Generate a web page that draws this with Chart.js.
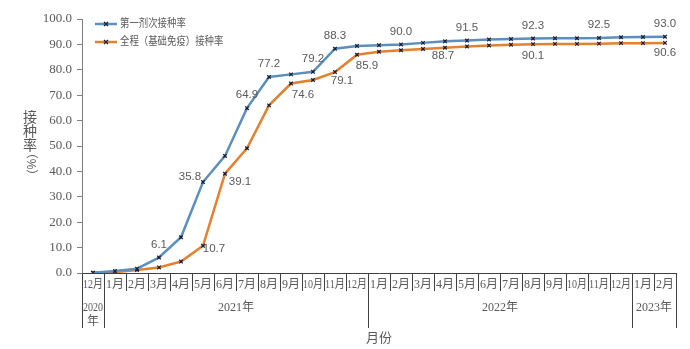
<!DOCTYPE html>
<html>
<head>
<meta charset="utf-8">
<script src="https://cdn.jsdelivr.net/npm/chart.js@4"></script>
<style>
  body { margin: 0; background: #fff; }
  #wrap { width: 690px; height: 349px; position: relative; }
</style>
</head>
<body>
<div id="wrap"><canvas id="myChart"></canvas></div>
<script>
// categories: 2020-12 .. 2023-02
const months = ["12月", "1月", "2月", "3月", "4月", "5月", "6月", "7月", "8月", "9月", "10月", "11月", "12月",
  "1月", "2月", "3月", "4月", "5月", "6月", "7月", "8月", "9月", "10月", "11月", "12月", "1月", "2月"];
const years = [
  { label: "2020\n年", from: 0, to: 0 },
  { label: "2021年", from: 1, to: 12 },
  { label: "2022年", from: 13, to: 24 },
  { label: "2023年", from: 25, to: 26 },
];
const firstDose = [0.1, 0.8, 1.7, 6.1, 14.1, 35.8, 46.1, 64.9, 77.2, 78.2, 79.2, 88.3, 89.4,
  89.7, 90.0, 90.6, 91.2, 91.5, 91.9, 92.1, 92.3, 92.4, 92.4, 92.5, 92.8, 92.9, 93.0];
const fullCourse = [0.1, 0.3, 1.2, 2.2, 4.5, 10.7, 39.1, 49.1, 66.0, 74.6, 76.0, 79.1, 85.9,
  87.1, 87.7, 88.2, 88.7, 89.2, 89.6, 89.9, 90.1, 90.2, 90.2, 90.3, 90.5, 90.5, 90.6];
const yTicks = [0, 10, 20, 30, 40, 50, 60, 70, 80, 90, 100];

// which points carry a value label, and where the label sits relative to the point
const firstDoseLabels = [3, 5, 7, 8, 10, 11, 14, 17, 20, 23, 26];
const fullCourseLabels = [5, 6, 9, 11, 12, 16, 20, 26];
const labelOffset = {
  0: { 5: [-13, -5] },
  1: { 5: [11, 3], 6: [15, 8], 9: [12, 11], 11: [7, 9], 12: [10, 11], 16: [-2, 8], 20: [0, 12], 26: [0, 10] },
};

const gray = "#595959";
const serif = '"Liberation Serif", "Noto Sans CJK SC"';
const sans = '"Liberation Sans", "Noto Sans CJK SC"';

function squeezeText(ctx, text, x, y, maxW) {
  const w = ctx.measureText(text).width;
  const s = w > maxW ? maxW / w : 1;
  ctx.save();
  ctx.translate(x, y);
  ctx.scale(s, 1);
  ctx.fillText(text, 0, 0);
  ctx.restore();
}

const extras = {
  id: "extras",
  afterDatasetsDraw(chart) {
    const ctx = chart.ctx;
    ctx.save();
    ctx.font = "11.5px " + sans;
    ctx.fillStyle = gray;
    ctx.textBaseline = "middle";
    [firstDoseLabels, fullCourseLabels].forEach((idx, di) => {
      const meta = chart.getDatasetMeta(di);
      const vals = chart.data.datasets[di].data;
      idx.forEach(i => {
        const p = meta.data[i];
        const off = (labelOffset[di] && labelOffset[di][i]) || [0, -13];
        ctx.textAlign = "center";
        squeezeText(ctx, vals[i].toFixed(1), p.x + off[0], p.y + off[1], 40);
      });
    });
    ctx.restore();
  },
  afterDraw(chart) {
    const ctx = chart.ctx;
    const x = chart.scales.x;
    const area = chart.chartArea;
    const bottom = area.bottom;
    const step = x.getPixelForValue(1) - x.getPixelForValue(0);
    ctx.save();
    ctx.strokeStyle = "#404040";
    ctx.lineWidth = 1;
    // month separators
    for (let i = 0; i <= months.length; i++) {
      const px = Math.round(x.getPixelForValue(i) - step / 2) + 0.5;
      ctx.beginPath();
      ctx.moveTo(px, bottom);
      ctx.lineTo(px, bottom + 18);
      ctx.stroke();
    }
    // year separators
    const yearEdges = [years[0].from];
    years.forEach(y => yearEdges.push(y.to + 1));
    yearEdges.forEach(e => {
      const px = Math.round(x.getPixelForValue(e) - step / 2) + 0.5;
      ctx.beginPath();
      ctx.moveTo(px, bottom);
      ctx.lineTo(px, bottom + 55);
      ctx.stroke();
    });
    ctx.fillStyle = gray;
    ctx.textAlign = "center";
    ctx.textBaseline = "middle";
    ctx.font = "12px " + serif;
    months.forEach((m, i) => {
      squeezeText(ctx, m, x.getPixelForValue(i), bottom + 12, step - 2);
    });
    years.forEach(y => {
      const cx = (x.getPixelForValue(y.from) + x.getPixelForValue(y.to)) / 2;
      const lines = y.label.split("\n");
      lines.forEach((t, k) => {
        squeezeText(ctx, t, cx, bottom + 35 + k * 14, (y.to - y.from + 1) * step - 2);
      });
    });
    // x title
    ctx.font = "13px " + sans;
    ctx.fillText("月份", (area.left + area.right) / 2, 338);
    // y title, stacked characters
    ctx.font = "14px " + sans;
    ["接", "种", "率"].forEach((c, k) => ctx.fillText(c, 30, 118 + k * 14));
    ctx.save();
    ctx.translate(30, 164);
    ctx.rotate(Math.PI / 2);
    ctx.font = "12px " + sans;
    ctx.fillText("（%）", 0, 0);
    ctx.restore();
    // legend
    const items = [
      { text: "第一剂次接种率", color: chart.data.datasets[0].borderColor, y: 24 },
      { text: "全程（基础免疫）接种率", color: chart.data.datasets[1].borderColor, y: 42 },
    ];
    items.forEach(it => {
      ctx.strokeStyle = it.color;
      ctx.lineWidth = 2.5;
      ctx.beginPath();
      ctx.moveTo(95, it.y);
      ctx.lineTo(117, it.y);
      ctx.stroke();
      ctx.strokeStyle = "#1b1f33";
      ctx.lineWidth = 1.3;
      ctx.beginPath();
      ctx.moveTo(104, it.y - 2); ctx.lineTo(108, it.y + 2);
      ctx.moveTo(108, it.y - 2); ctx.lineTo(104, it.y + 2);
      ctx.stroke();
      ctx.font = "11px " + sans;
      ctx.textAlign = "left";
      squeezeText(ctx, it.text, 120, it.y, it.text.length * 9.4);
    });
    ctx.restore();
  },
};

document.addEventListener("DOMContentLoaded", function () {
  const ctx = document.getElementById("myChart");
  new Chart(ctx, {
    type: "line",
    data: {
      labels: months,
      datasets: [
        {
          label: "第一剂次接种率",
          data: firstDose,
          borderColor: "#5a8fc0",
          borderWidth: 2.5,
          pointStyle: "crossRot",
          pointRadius: 2.5,
          pointBorderColor: "#1b1f33",
          pointBorderWidth: 1.3,
          tension: 0,
        },
        {
          label: "全程（基础免疫）接种率",
          data: fullCourse,
          borderColor: "#e3812f",
          borderWidth: 2.5,
          pointStyle: "crossRot",
          pointRadius: 2.5,
          pointBorderColor: "#1b1f33",
          pointBorderWidth: 1.3,
          tension: 0,
        },
      ],
    },
    options: {
      responsive: true,
      maintainAspectRatio: false,
      animation: false,
      layout: { padding: { top: 19, right: 14, left: 0, bottom: 0 } },
      plugins: {
        legend: { display: false },
        tooltip: { enabled: false },
      },
      scales: {
        x: {
          offset: true,
          grid: { display: false },
          border: { color: "#404040" },
          ticks: { display: false },
          afterFit: s => { s.height = 76; },
        },
        y: {
          min: 0,
          max: 100,
          afterBuildTicks: s => { s.ticks = yTicks.map(v => ({ value: v })); },
          ticks: {
            callback: v => v.toFixed(1),
            color: gray,
            font: { family: serif, size: 13 },
            padding: 5,
          },
          grid: { drawOnChartArea: false, tickLength: 5, color: "#808080" },
          border: { color: "#808080" },
          afterFit: s => { s.width = 82; },
        },
      },
    },
    plugins: [extras],
  });
});
</script>
</body>
</html>
